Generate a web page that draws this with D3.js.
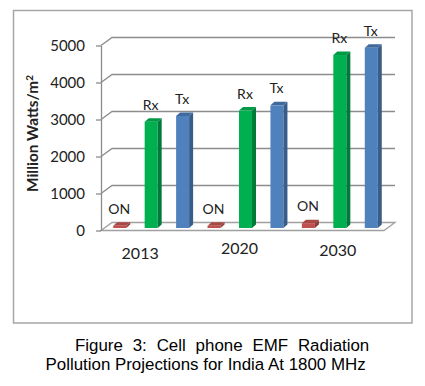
<!DOCTYPE html>
<html>
<head>
<meta charset="utf-8">
<script src="https://cdn.jsdelivr.net/npm/d3@7"></script>
<style>
  html, body { margin: 0; padding: 0; background: #fff; }
  svg { display: block; }
</style>
</head>
<body>
<div id="chart"></div>
<script>
const categories = ["2013", "2020", "2030"];
const seriesNames = ["ON", "Rx", "Tx"];
const onValues = [60, 60, 130];
const rxValues = [2875, 3175, 4675];
const txValues = [3030, 3315, 4870];
const yTicks = [0, 1000, 2000, 3000, 4000, 5000];
const captionLines = ["Figure 3: Cell phone EMF Radiation", "Pollution Projections for India At 1800 MHz"];

const seriesValues = [onValues, rxValues, txValues];

// colours per series: front, side, top
const faceColors = {
  ON: ["#c0504d", "#8f3b39", "#a84744"],
  Rx: ["#00b050", "#007a38", "#009a46"],
  Tx: ["#4f81bd", "#385d8a", "#3f6a9e"]
};

// the hand placed year labels do not sit on the band centres
const yearNudge = [[-8, 254], [-3, 249], [1, 251]];

const svg = d3.select("#chart").append("svg")
  .attr("width", 425)
  .attr("height", 386);

svg.append("rect")
  .attr("x", 13.5).attr("y", 10.5)
  .attr("width", 398.5).attr("height", 312.5)
  .attr("fill", "#fff")
  .attr("stroke", "#a6a6a6")
  .attr("stroke-width", 1.5);

const x0 = d3.scaleBand().domain(categories).range([101, 384]);
const x1 = d3.scaleBand().domain(seriesNames).range([0, x0.bandwidth()]).paddingInner(0.58).paddingOuter(0.29);
const y = d3.scaleLinear().domain([0, 5000]).range([230.5, 45.5]);

const depthX = 11, depthY = 8;   // wall depth
const barDepthX = 4, barDepthY = 3.5;
const barShiftX = 3, barShiftY = -2.5;
const gridColor = "#8c8c8c";
const labelFont = "Lato, 'Open Sans', sans-serif";

// back wall grid lines with the little diagonal on the left
svg.append("g").selectAll("path")
  .data(yTicks.filter(d => d > 0))
  .enter().append("path")
  .attr("d", d => `M${x0.range()[0]},${y(d)}L${x0.range()[0] + depthX},${y(d) - depthY}H${x0.range()[1] + depthX}`)
  .attr("fill", "none")
  .attr("stroke", gridColor)
  .attr("stroke-width", 1.3);

// floor
svg.append("path")
  .attr("d", `M${x0.range()[0]},${y(0)}L${x0.range()[0] + depthX},${y(0) - depthY}H${x0.range()[1] + depthX}L${x0.range()[1]},${y(0)}Z`)
  .attr("fill", "#fff")
  .attr("stroke", "#a0a0a0")
  .attr("stroke-width", 1.3);

const axis = svg.append("g")
  .attr("transform", `translate(${x0.range()[0]},0)`)
  .call(d3.axisLeft(y).tickValues(yTicks).tickSize(5).tickSizeOuter(0).tickPadding(11).tickFormat(d3.format("d")));
axis.select(".domain").attr("stroke", "#8c8c8c").attr("stroke-width", 1.3);
axis.selectAll(".tick line").attr("stroke", "#8c8c8c").attr("stroke-width", 1.3);
axis.selectAll("text")
  .attr("font-family", labelFont)
  .attr("font-size", 15)
  .attr("fill", "#222");

const barWidth = 13;
const groups = svg.selectAll(".group")
  .data(categories)
  .enter().append("g")
  .attr("class", "group")
  .attr("transform", d => `translate(${x0(d)},0)`);

seriesNames.forEach((name, s) => {
  const colors = faceColors[name];
  const left = (x1(name) + x1.bandwidth() / 2 - barWidth / 2) + barShiftX;
  const top = i => y(seriesValues[s][i]) + barShiftY;
  const base = y(0) + barShiftY;

  const bar = groups.append("g").attr("class", "bar");

  bar.append("rect")
    .attr("x", left)
    .attr("y", (d, i) => top(i))
    .attr("width", barWidth)
    .attr("height", (d, i) => base - top(i))
    .attr("fill", colors[0]);

  bar.append("path")
    .attr("d", (d, i) => `M${left + barWidth},${top(i)}l${barDepthX},${-barDepthY}V${base - barDepthY}l${-barDepthX},${barDepthY}Z`)
    .attr("fill", colors[1]);

  bar.append("path")
    .attr("d", (d, i) => `M${left},${top(i)}l${barDepthX},${-barDepthY}h${barWidth}l${-barDepthX},${barDepthY}Z`)
    .attr("fill", colors[2]);

  bar.append("text")
    .attr("x", left + barWidth / 2 - 0.5)
    .attr("y", (d, i) => top(i) - 12)
    .attr("text-anchor", "middle")
    .attr("font-family", labelFont)
    .attr("font-size", 14)
    .attr("fill", "#222")
    .text(name);
});

// year labels
svg.selectAll(".year")
  .data(categories)
  .enter().append("text")
  .attr("class", "year")
  .attr("x", (d, i) => x0(d) + x0.bandwidth() / 2 + yearNudge[i][0])
  .attr("y", (d, i) => yearNudge[i][1] + 5)
  .attr("text-anchor", "middle")
  .attr("font-family", labelFont)
  .attr("font-size", 16)
  .attr("fill", "#222")
  .text(d => d);

// axis title
const yTitle = svg.append("text")
  .attr("transform", "translate(38,133.5) rotate(-90)")
  .attr("text-anchor", "middle")
  .attr("font-family", labelFont)
  .attr("font-size", 15.4)
  .attr("font-weight", 700)
  .attr("fill", "#222");
yTitle.append("tspan").text("Million Watts/m");
yTitle.append("tspan").attr("font-size", 10).attr("dy", -5).text("2");

// caption
const captionX = [75, 45.5];
const captionSpacing = [5.15, 0];
svg.selectAll(".caption")
  .data(captionLines)
  .enter().append("text")
  .attr("class", "caption")
  .attr("x", (d, i) => captionX[i])
  .attr("y", (d, i) => 351 + i * 19)
  .attr("word-spacing", (d, i) => captionSpacing[i])
  .attr("font-family", "'Liberation Sans', Arial, sans-serif")
  .attr("font-size", 16.9)
  .attr("fill", "#000")
  .text(d => d);
</script>
</body>
</html>
